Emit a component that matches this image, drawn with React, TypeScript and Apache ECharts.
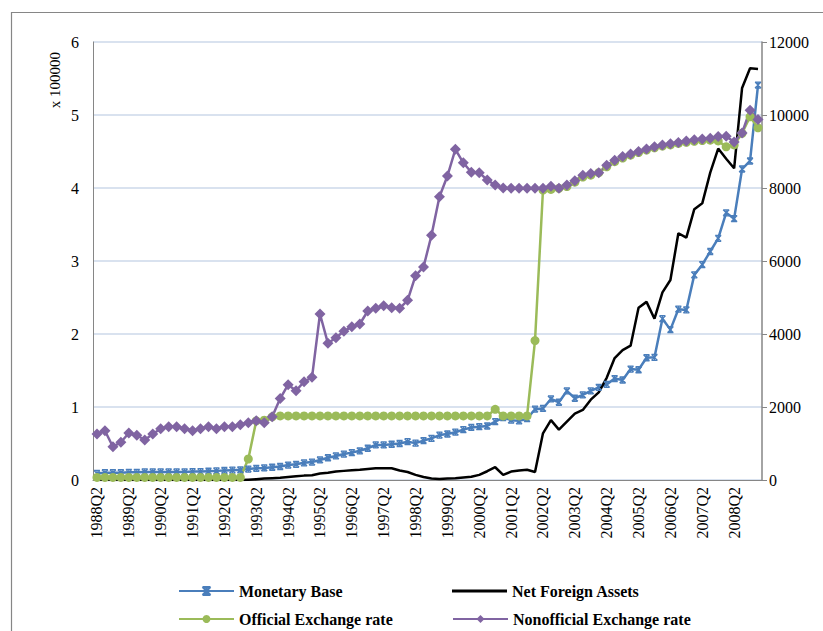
import React, { useEffect, useRef } from "react";
import * as echarts from "echarts";

// Quarter categories 1988Q2 .. 2009Q1
const quarters: string[] = [];
for (let y = 1988; y <= 2009; y++) {
  for (let q = 1; q <= 4; q++) {
    if (y === 1988 && q < 2) continue;
    if (y === 2009 && q > 1) continue;
    quarters.push(`${y}Q${q}`);
  }
}

// Left axis (x 100000)
const monetaryBase = [
  0.09, 0.1, 0.1, 0.1, 0.105, 0.105, 0.11, 0.11, 0.11, 0.11,
  0.11, 0.11, 0.115, 0.115, 0.12, 0.125, 0.13, 0.135, 0.14, 0.15,
  0.16, 0.165, 0.175, 0.185, 0.205, 0.215, 0.235, 0.245, 0.275, 0.305,
  0.33, 0.355, 0.375, 0.4, 0.435, 0.48, 0.48, 0.49, 0.5, 0.525,
  0.505, 0.54, 0.57, 0.615, 0.63, 0.655, 0.69, 0.72, 0.73, 0.74,
  0.8, 0.855, 0.82, 0.81, 0.84, 0.97, 0.98, 1.11, 1.065, 1.22,
  1.12, 1.165, 1.22, 1.27, 1.31, 1.39, 1.37, 1.52, 1.51, 1.675,
  1.68, 2.21, 2.06, 2.34, 2.33, 2.81, 2.95, 3.13, 3.31, 3.66,
  3.58, 4.26, 4.37, 5.41,
];

const netForeignAssets = [
  0, 0, 0, 0, 0, 0, 0, 0, 0, 0,
  0, 0, 0, 0, 0, 0, 0, 0, 0, 0.005,
  0.01, 0.02, 0.025, 0.03, 0.04, 0.05, 0.06, 0.065, 0.09, 0.1,
  0.115, 0.125, 0.135, 0.14, 0.15, 0.16, 0.16, 0.16, 0.13, 0.11,
  0.07, 0.04, 0.02, 0.015, 0.02, 0.025, 0.035, 0.045, 0.07, 0.12,
  0.175, 0.07, 0.115, 0.13, 0.14, 0.11, 0.64, 0.82, 0.69, 0.8,
  0.91, 0.96, 1.1, 1.2, 1.4, 1.67, 1.78, 1.84, 2.36, 2.44,
  2.21, 2.57, 2.74, 3.38, 3.32, 3.71, 3.79, 4.21, 4.54, 4.4,
  4.27, 5.37, 5.64, 5.63,
];

// Right axis
const officialRate = [
  70, 70, 70, 70, 70, 70, 70, 70, 70, 70,
  70, 70, 70, 70, 70, 70, 70, 70, 70, 575,
  1620, 1640, 1730, 1755, 1755, 1755, 1755, 1755, 1755, 1755,
  1755, 1755, 1755, 1755, 1755, 1755, 1755, 1755, 1755, 1755,
  1755, 1755, 1755, 1755, 1755, 1755, 1755, 1755, 1755, 1755,
  1937, 1755, 1755, 1755, 1755, 3820, 7945, 7960, 7990, 8040,
  8160, 8300, 8350, 8420, 8580, 8720, 8820, 8900, 8970, 9040,
  9100, 9150, 9180, 9220, 9250, 9280, 9300, 9310, 9290, 9130,
  9180, 9500, 9950, 9650,
];

const nonofficialRate = [
  1260, 1350, 912, 1033, 1288, 1225, 1096, 1260, 1405, 1460,
  1460, 1405, 1350, 1405, 1460, 1405, 1460, 1460, 1515, 1570,
  1625, 1570, 1734, 2230, 2610, 2447, 2693, 2814, 4548, 3745,
  3899, 4074, 4200, 4274, 4630, 4704, 4775, 4721, 4704, 4923,
  5597, 5836, 6704, 7762, 8329, 9060, 8690, 8430, 8420, 8220,
  8080, 8000, 7995, 7995, 7995, 7995, 7995, 8050, 7990, 8080,
  8200, 8350, 8400, 8420, 8620, 8760, 8860, 8930, 9000, 9070,
  9130, 9180, 9210, 9250, 9290, 9320, 9340, 9360, 9410, 9420,
  9260, 9510, 10130, 9880,
];

const leftTicks = [0, 6, 1];
const rightTicks = [0, 12000, 2000];

const FONT = "Liberation Serif";
const BLUE = "#4a7ebb";
const GREEN = "#9bbb59";
const PURPLE = "#8064a2";
const AXIS = "#868686";
const GRID = "#cdd9ea";

export default function App() {
  const ref = useRef<HTMLDivElement>(null);
  useEffect(() => {
    document.body.style.margin = "0";
    const chart = echarts.init(ref.current!, null, { renderer: "svg" });
    const legendCommon = {
      itemWidth: 55,
      itemHeight: 10,
      itemGap: 0,
      padding: 0,
      selectedMode: false,
      textStyle: { fontFamily: FONT, fontSize: 16, fontWeight: "bold", color: "#000" },
    };
    chart.setOption({
      animation: false,
      backgroundColor: "#fff",
      textStyle: { fontFamily: FONT },
      grid: { left: 93, right: 61, top: 42, bottom: 151, containLabel: false },
      legend: [
        { ...legendCommon, left: 178, top: 583, data: ["Monetary Base"] },
        {
          ...legendCommon,
          left: 452,
          top: 583,
          itemHeight: 3,
          icon: "rect",
          data: ["Net Foreign Assets"],
        },
        { ...legendCommon, left: 178, top: 611, data: ["Official Exchange rate"] },
        { ...legendCommon, left: 452, top: 611, data: ["Nonofficial Exchange rate"] },
      ],
      graphic: [
        {
          type: "rect",
          shape: { x: 11.5, y: 12.5, width: 900, height: 700 },
          style: { fill: "none", stroke: AXIS, lineWidth: 1.2 },
          silent: true,
        },
        {
          type: "text",
          x: 55,
          y: 80,
          rotation: Math.PI / 2,
          style: {
            text: "x 100000",
            fontFamily: FONT,
            fontSize: 15,
            fill: "#000",
            align: "center",
            verticalAlign: "middle",
          },
        },
      ],
      xAxis: {
        type: "category",
        data: quarters,
        boundaryGap: true,
        axisLine: { lineStyle: { color: AXIS, width: 1 } },
        axisTick: { show: false },
        axisLabel: {
          interval: 3,
          rotate: 90,
          margin: 7,
          fontFamily: FONT,
          fontSize: 16,
          color: "#000",
        },
      },
      yAxis: [
        {
          type: "value",
          min: leftTicks[0],
          max: leftTicks[1],
          interval: leftTicks[2],
          axisLine: { show: true, lineStyle: { color: AXIS, width: 1 } },
          axisTick: { show: false },
          axisLabel: { margin: 14, fontFamily: FONT, fontSize: 16, color: "#000" },
          splitLine: { lineStyle: { color: GRID, width: 1.5 } },
        },
        {
          type: "value",
          position: "right",
          min: rightTicks[0],
          max: rightTicks[1],
          interval: rightTicks[2],
          axisLine: { show: true, lineStyle: { color: AXIS, width: 1.5 } },
          axisTick: { show: true, length: 5, lineStyle: { color: AXIS } },
          axisLabel: {
            margin: 7,
            fontFamily: FONT,
            fontSize: 16,
            color: "#000",
            formatter: (v: number) => String(v),
          },
          splitLine: { show: false },
        },
      ],
      series: [
        {
          name: "Monetary Base",
          type: "line",
          yAxisIndex: 0,
          data: monetaryBase,
          showAllSymbol: true,
          symbol: "path://M0,0L10,0M0,10L10,10M0,0L10,10M10,0L0,10M5,0L5,10",
          symbolSize: 6,
          lineStyle: { color: BLUE, width: 2.5 },
          itemStyle: { color: BLUE, borderColor: BLUE, borderWidth: 1.3 },
        },
        {
          name: "Net Foreign Assets",
          type: "line",
          yAxisIndex: 0,
          data: netForeignAssets,
          symbol: "none",
          lineStyle: { color: "#000", width: 2.5 },
          itemStyle: { color: "#000" },
        },
        {
          name: "Official Exchange rate",
          type: "line",
          yAxisIndex: 1,
          data: officialRate,
          showAllSymbol: true,
          symbol: "circle",
          symbolSize: 9,
          lineStyle: { color: GREEN, width: 2.5 },
          itemStyle: { color: GREEN },
        },
        {
          name: "Nonofficial Exchange rate",
          type: "line",
          yAxisIndex: 1,
          data: nonofficialRate,
          showAllSymbol: true,
          symbol: "diamond",
          symbolSize: [11, 11],
          lineStyle: { color: PURPLE, width: 2.5 },
          itemStyle: { color: PURPLE },
        },
      ],
    });
    return () => chart.dispose();
  }, []);
  return <div ref={ref} style={{ width: 823, height: 631 }} />;
}
